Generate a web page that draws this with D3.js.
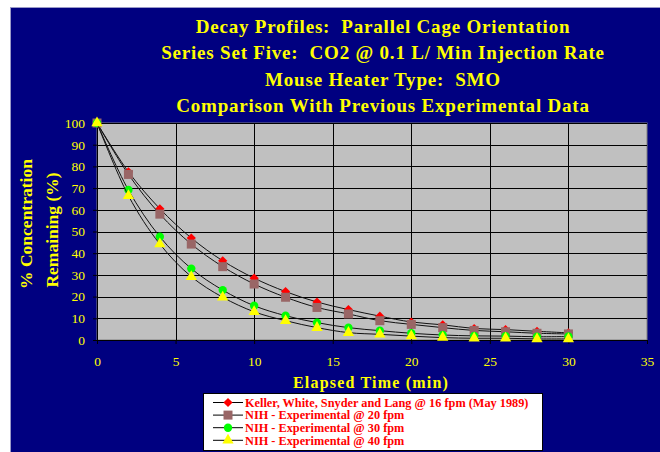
<!DOCTYPE html>
<html>
<head>
<meta charset="utf-8">
<script src="https://cdn.jsdelivr.net/npm/d3@7"></script>
<style>
  body { margin: 0; background: #fff; }
  text { font-family: 'Liberation Serif', 'Times New Roman', serif; white-space: pre; }
</style>
</head>
<body>
<svg width="660" height="452"></svg>
<script>
let svg = d3.select('svg');

let titles = [
    'Decay Profiles:  Parallel Cage Orientation',
    'Series Set Five:  CO2 @ 0.1 L/ Min Injection Rate',
    'Mouse Heater Type:  SMO',
    'Comparison With Previous Experimental Data'
];

let time = [0, 2, 4, 6, 8, 10, 12, 14, 16, 18, 20, 22, 24, 26, 28, 30];

let keller = [100, 77.5, 60.5, 47, 36.5, 28.5, 22.3, 17.5, 14, 11, 8.3, 7, 5.3, 4.8, 4, 3.3];
let nih20  = [100, 76.3, 58, 44.2, 33.8, 25.8, 19.7, 15, 12, 8.9, 7.2, 5.7, 4.4, 3.8, 3.1, 2.8];
let nih30  = [100, 69.1, 47.6, 32.9, 23, 15.8, 11.2, 8, 5.7, 4.3, 3.1, 2.3, 1.9, 1.8, 1.5, 1.6];
let nih40  = [100, 66.5, 44.2, 29.2, 19.7, 13, 8.9, 5.7, 3.4, 2.6, 1.8, 1.1, 0.8, 0.8, 0.5, 0.5];

let seriesNames = [
    'Keller, White, Snyder and Lang @ 16 fpm (May 1989)',
    'NIH - Experimental @ 20 fpm',
    'NIH - Experimental @ 30 fpm',
    'NIH - Experimental @ 40 fpm'
];

let xTicks = [0, 5, 10, 15, 20, 25, 30, 35];
let yTicks = [0, 10, 20, 30, 40, 50, 60, 70, 80, 90, 100];

// excel-style diamond = square turned 45 degrees
let series = [
    { name: seriesNames[0], values: keller, color: '#ff0000', shape: d3.symbolSquare,   size: 42, rot: 45 },
    { name: seriesNames[1], values: nih20,  color: '#996666', shape: d3.symbolSquare,   size: 81, rot: 0 },
    { name: seriesNames[2], values: nih30,  color: '#00ff00', shape: d3.symbolCircle,   size: 55, rot: 0 },
    { name: seriesNames[3], values: nih40,  color: '#ffff00', shape: d3.symbolTriangle, size: 55, rot: 0 }
];

let margin = { top: 123, right: 13, bottom: 112, left: 97 };
let width = 660, height = 452;

// blue backdrop
svg.append('rect')
    .attr('x', 10.5).attr('y', 7.5)
    .attr('width', 660).attr('height', 450)
    .attr('fill', '#000080')
    .attr('stroke', '#9a9ac8');

svg.selectAll('.title')
    .data(titles)
    .enter().append('text')
    .attr('class', 'title')
    .attr('x', 383)
    .attr('y', (d, i) => 33 + i * 26.3)
    .attr('text-anchor', 'middle')
    .attr('fill', '#ffff00')
    .attr('font-weight', 'bold')
    .attr('font-size', '19px')
    .attr('letter-spacing', '0.8px')
    .text(d => d);

let x = d3.scaleLinear().domain([0, 35]).range([margin.left, width - margin.right]);
let y = d3.scaleLinear().domain([0, 100]).range([height - margin.bottom, margin.top]);

svg.append('rect')
    .attr('x', x(0)).attr('y', y(100))
    .attr('width', x(35) - x(0)).attr('height', y(0) - y(100))
    .attr('fill', '#c0c0c0')
    .attr('stroke', '#808080');

// grid
svg.append('g')
    .selectAll('line')
    .data(yTicks.slice(1))
    .enter().append('line')
    .attr('x1', x(0)).attr('x2', x(35))
    .attr('y1', d => Math.round(y(d)) + 0.5).attr('y2', d => Math.round(y(d)) + 0.5)
    .attr('stroke', '#000');

svg.append('g')
    .selectAll('line')
    .data(xTicks.slice(1, -1))
    .enter().append('line')
    .attr('y1', y(0)).attr('y2', y(100))
    .attr('x1', d => Math.round(x(d)) + 0.5).attr('x2', d => Math.round(x(d)) + 0.5)
    .attr('stroke', '#000');

let xAxis = svg.append('g')
    .attr('transform', 'translate(0,' + y(0) + ')')
    .call(d3.axisBottom(x).tickValues(xTicks).tickSize(4).tickPadding(12));

let yAxis = svg.append('g')
    .attr('transform', 'translate(' + x(0) + ',0)')
    .call(d3.axisLeft(y).tickValues(yTicks).tickSize(4).tickPadding(8));

[xAxis, yAxis].forEach(a => {
    a.selectAll('path, line').attr('stroke', '#000');
    a.selectAll('text')
        .attr('fill', '#ffff00')
        .style('font-family', "'Liberation Serif', serif")
        .style('font-size', '13.5px');
});

// lines and markers
let line = d3.line()
    .x((d, i) => x(time[i]))
    .y(d => y(d))
    .curve(d3.curveCatmullRom);

series.forEach(s => {
    svg.append('path')
        .datum(s.values)
        .attr('d', line)
        .attr('fill', 'none')
        .attr('stroke', '#111')
        .attr('stroke-width', 1);

    svg.append('g')
        .selectAll('path')
        .data(s.values)
        .enter().append('path')
        .attr('transform', (d, i) => 'translate(' + x(time[i]) + ',' + y(d) + ') rotate(' + s.rot + ')')
        .attr('d', d3.symbol().type(s.shape).size(s.size))
        .attr('fill', s.color);
});

// axis titles
svg.append('text')
    .attr('x', 371).attr('y', 388)
    .attr('text-anchor', 'middle')
    .attr('fill', '#ffff00')
    .attr('font-weight', 'bold')
    .attr('font-size', '16px')
    .attr('letter-spacing', '1.2px')
    .text('Elapsed Time (min)');

svg.append('text')
    .attr('transform', 'translate(32,224) rotate(-90)')
    .attr('text-anchor', 'middle')
    .attr('fill', '#ffff00')
    .attr('font-weight', 'bold')
    .attr('font-size', '17.5px')
    .text('% Concentration');

svg.append('text')
    .attr('transform', 'translate(58,230) rotate(-90)')
    .attr('text-anchor', 'middle')
    .attr('fill', '#ffff00')
    .attr('font-weight', 'bold')
    .attr('font-size', '17.5px')
    .text('Remaining (%)');

// legend
let legend = svg.append('g');
legend.append('rect')
    .attr('x', 203.5).attr('y', 393.5)
    .attr('width', 339).attr('height', 57)
    .attr('fill', '#fff')
    .attr('stroke', '#000');

let item = legend.selectAll('.item')
    .data(series)
    .enter().append('g')
    .attr('class', 'item')
    .attr('transform', (d, i) => 'translate(0,' + (402.5 + i * 12.6) + ')');

item.append('line')
    .attr('x1', 213).attr('x2', 243)
    .attr('stroke', '#000');

item.append('path')
    .attr('transform', d => 'translate(228,0) rotate(' + d.rot + ')')
    .attr('d', d => d3.symbol().type(d.shape).size(d.size)())
    .attr('fill', d => d.color);

item.append('text')
    .attr('x', 245)
    .attr('dy', '0.35em')
    .attr('fill', '#ff0000')
    .attr('font-weight', 'bold')
    .attr('font-size', '12.3px')
    .text(d => d.name);
</script>
</body>
</html>
